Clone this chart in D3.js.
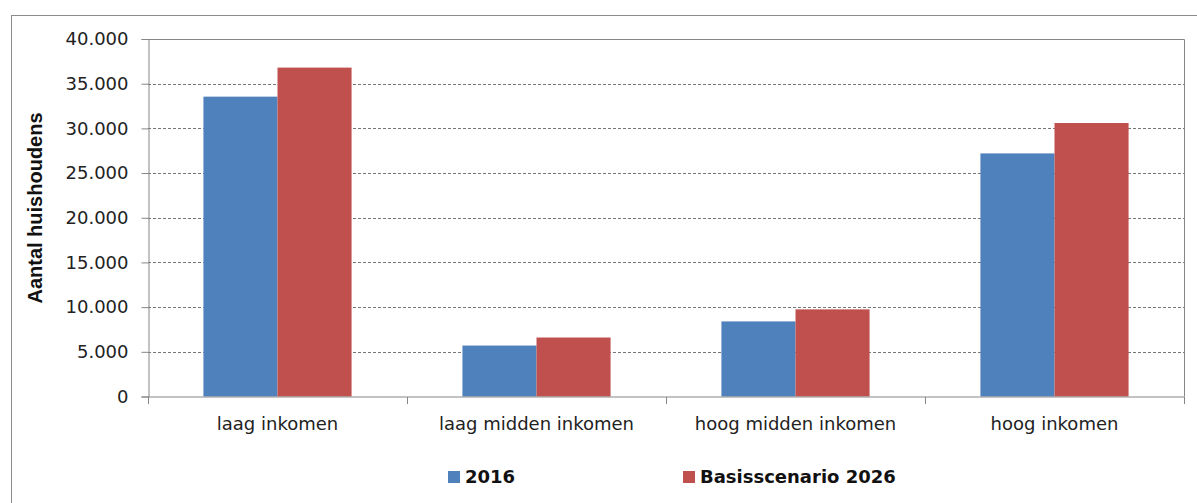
<!DOCTYPE html>
<html>
<head>
<meta charset="utf-8">
<script src="https://cdn.jsdelivr.net/npm/d3@7"></script>
<style>
  html, body { margin: 0; padding: 0; background: #fff; }
  svg { display: block; }
</style>
</head>
<body>
<svg id="chart" width="1197" height="503"></svg>
<script>
// Households per income class, 2016 vs. base scenario 2026
const categories = ["laag inkomen", "laag midden inkomen", "hoog midden inkomen", "hoog inkomen"];
const seriesNames = ["2016", "Basisscenario 2026"];
const values2016 = [33550, 5700, 8400, 27200];
const values2026 = [36800, 6600, 9750, 30600];
const yTicks = [0, 5000, 10000, 15000, 20000, 25000, 30000, 35000, 40000];
const colors = ["#4F81BD", "#C0504D"];

const svg = d3.select("#chart");
const W = 1197, H = 503;

// outer chart frame
svg.append("rect")
  .attr("x", 11.5).attr("y", 15.5)
  .attr("width", W).attr("height", H)
  .attr("fill", "#fff").attr("stroke", "#8c8c8c").attr("stroke-width", 1);

const plot = { left: 148, top: 39, right: 1184, bottom: 396.5 };

const x0 = d3.scaleBand().domain(categories)
  .range([plot.left, plot.right]).paddingInner(0).paddingOuter(0);
const x1 = d3.scaleBand().domain(seriesNames)
  .range([0, x0.bandwidth() * 0.572]);
const y = d3.scaleLinear().domain([0, 40000]).range([plot.bottom, plot.top]);

const fmt = v => d3.format(",")(v).replace(/,/g, ".");

// dashed gridlines
svg.append("g").selectAll("line")
  .data(yTicks.filter(t => t > 0 && t < 40000))
  .join("line")
  .attr("x1", plot.left).attr("x2", plot.right)
  .attr("y1", d => Math.round(y(d)) + 0.5).attr("y2", d => Math.round(y(d)) + 0.5)
  .attr("stroke", "#777").attr("stroke-width", 1).attr("stroke-dasharray", "3,2");

// bars
const data = categories.map((c, i) => ({ cat: c, vals: [values2016[i], values2026[i]] }));
const groupOffset = (x0.bandwidth() - x1.range()[1]) / 2;
svg.append("g").selectAll("g")
  .data(data)
  .join("g")
  .attr("transform", d => `translate(${x0(d.cat) + groupOffset},0)`)
  .selectAll("rect")
  .data(d => d.vals.map((v, i) => ({ name: seriesNames[i], v, i })))
  .join("rect")
  .attr("x", d => x1(d.name))
  .attr("width", x1.bandwidth())
  .attr("y", d => y(d.v))
  .attr("height", d => y(0) - y(d.v))
  .attr("fill", d => colors[d.i]);

// plot area border (top and right)
svg.append("path")
  .attr("d", `M${plot.left},${plot.top + 0.5}H${plot.right + 0.5}V${plot.bottom}`)
  .attr("fill", "none").attr("stroke", "#868686").attr("stroke-width", 1);

// y axis
const yAxis = d3.axisLeft(y).tickValues(yTicks).tickFormat(fmt).tickSize(7).tickPadding(13);
const gy = svg.append("g")
  .attr("transform", `translate(${plot.left + 0.5},0)`)
  .call(yAxis);
gy.select(".domain").attr("stroke", "#868686");
gy.selectAll(".tick line").attr("stroke", "#868686");
gy.selectAll(".tick text")
  .attr("font-family", "'DejaVu Sans', Verdana, sans-serif")
  .attr("font-size", 18).attr("fill", "#222");

// x axis
const xAxis = d3.axisBottom(x0).tickSize(0).tickPadding(20);
const gx = svg.append("g")
  .attr("transform", `translate(0,${plot.bottom + 0.5})`)
  .call(xAxis);
gx.select(".domain").attr("stroke", "#868686").attr("d", `M${plot.left},0H${plot.right + 0.5}`);
gx.selectAll(".tick text")
  .attr("font-family", "'DejaVu Sans', Verdana, sans-serif")
  .attr("font-size", 18).attr("fill", "#222");
// category separators
const seps = categories.map(c => x0(c)).concat([plot.right]);
gx.append("g").selectAll("line")
  .data(seps)
  .join("line")
  .attr("x1", d => Math.round(d) + 0.5).attr("x2", d => Math.round(d) + 0.5)
  .attr("y1", 0).attr("y2", 7)
  .attr("stroke", "#868686");

// y axis title
svg.append("text")
  .attr("transform", `translate(42,208) rotate(-90)`)
  .attr("text-anchor", "middle")
  .attr("font-family", "'Liberation Sans', Arial, sans-serif")
  .attr("font-weight", "bold").attr("font-size", 20).attr("fill", "#111")
  .text("Aantal huishoudens");

// legend
const legendX = [448, 683];
const legend = svg.append("g").selectAll("g")
  .data(seriesNames)
  .join("g")
  .attr("transform", (d, i) => `translate(${legendX[i]},471)`);
legend.append("rect")
  .attr("width", 12).attr("height", 12)
  .attr("fill", (d, i) => colors[i]);
legend.append("text")
  .attr("x", 17).attr("y", 12)
  .attr("font-family", "'DejaVu Sans', Verdana, sans-serif")
  .attr("font-weight", "bold").attr("font-size", 18).attr("fill", "#111")
  .text(d => d);
</script>
</body>
</html>
